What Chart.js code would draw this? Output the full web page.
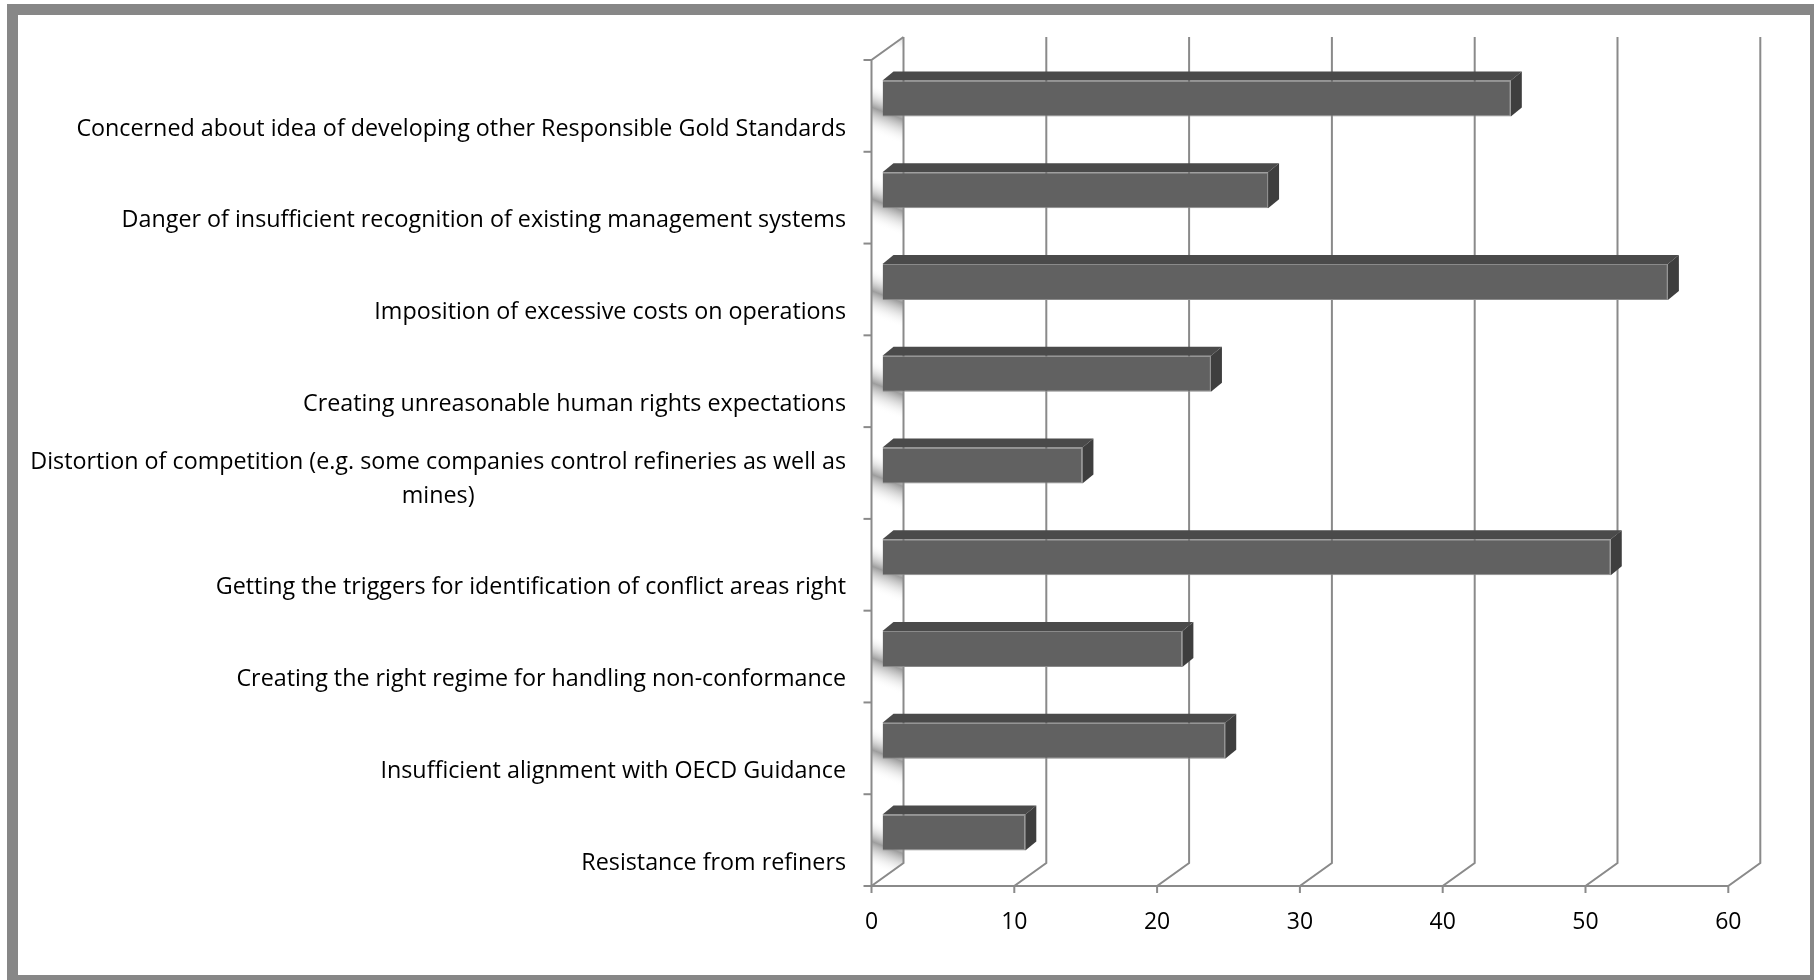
<!DOCTYPE html>
<html>
<head>
<meta charset="utf-8">
<script src="https://cdn.jsdelivr.net/npm/chart.js@4.4.0/dist/chart.umd.min.js"></script>
<style>
  html, body { margin: 0; padding: 0; background: #fff; overflow: hidden; }
  #frame { position: absolute; left: 7px; top: 4px; width: 1792px; height: 960px; border: 11px solid #878787; }
  #c { position: absolute; left: 0; top: 0; }
</style>
</head>
<body>
<div id="frame"></div>
<canvas id="c" width="1814" height="980"></canvas>
<script>
// Chart data
const categories = [
    'Concerned about idea of developing other Responsible Gold Standards',
    'Danger of insufficient recognition of existing management systems',
    'Imposition of excessive costs on operations',
    'Creating unreasonable human rights expectations',
    ['Distortion of competition (e.g. some companies control refineries as well as', 'mines)'],
    'Getting the triggers for identification of conflict areas right',
    'Creating the right regime for handling non-conformance',
    'Insufficient alignment with OECD Guidance',
    'Resistance from refiners'
];
const responses = [44, 27, 55, 23, 14, 51, 21, 24, 10];
const xTicks = [0, 10, 20, 30, 40, 50, 60];

// 3D look: offsets relative to the plane the bars sit in
const FRONT = { x: -11, y: 7.5 };
const BACK = { x: 21, y: -15.5 };
const DEPTH = { x: 11, y: -9 };
const LABEL_RIGHT = 846;
const FONT = '"Open Sans", "Noto Sans", sans-serif';

const box3d = {
    id: 'box3d',
    beforeDatasetsDraw(chart) {
        const { ctx, chartArea: a, scales: { x } } = chart;
        const x0 = x.getPixelForValue(xTicks[0]);
        const fl = x0 + FRONT.x, ft = a.top + FRONT.y, fb = a.bottom + FRONT.y;
        const bl = x0 + BACK.x, bt = a.top + BACK.y, bb = a.bottom + BACK.y;
        const band = (fb - ft) / categories.length;
        ctx.save();

        // side wall, white with a diagonal shade in each band
        ctx.beginPath();
        ctx.moveTo(fl, ft); ctx.lineTo(bl, bt); ctx.lineTo(bl, bb); ctx.lineTo(fl, fb);
        ctx.closePath();
        ctx.fillStyle = '#fff';
        ctx.fill();
        ctx.clip();
        for (let i = -1; i <= categories.length; i++) {
            const y1 = ft + i * band;
            const g = ctx.createLinearGradient(fl, y1 + band, bl, y1 + 0.1 * band);
            g.addColorStop(0, 'rgba(255,255,255,0)');
            g.addColorStop(0.2, 'rgba(255,255,255,0)');
            g.addColorStop(0.47, 'rgba(140,140,140,0.85)');
            g.addColorStop(0.72, 'rgba(255,255,255,0)');
            g.addColorStop(1, 'rgba(255,255,255,0)');
            ctx.fillStyle = g;
            ctx.fillRect(fl, y1 - band * 0.3, bl - fl, band * 1.6);
        }
        ctx.restore();
        ctx.save();

        ctx.strokeStyle = '#8a8a8a';
        ctx.lineWidth = 2;

        // grid lines on the back wall, running down to the front axis
        xTicks.forEach(v => {
            const px = x.getPixelForValue(v);
            ctx.beginPath();
            ctx.moveTo(px + BACK.x, bt);
            ctx.lineTo(px + BACK.x, bb);
            ctx.lineTo(px + FRONT.x, fb);
            ctx.lineTo(px + FRONT.x, fb + 7);
            ctx.stroke();
        });

        // front axis line
        ctx.beginPath();
        ctx.moveTo(fl, fb);
        ctx.lineTo(x.getPixelForValue(xTicks[xTicks.length - 1]) + FRONT.x, fb);
        ctx.stroke();

        // front edge of the wall with category ticks
        ctx.beginPath();
        ctx.moveTo(bl, bt); ctx.lineTo(fl, ft); ctx.lineTo(fl, fb);
        ctx.stroke();
        for (let i = 0; i <= categories.length; i++) {
            ctx.beginPath();
            ctx.moveTo(fl - 8, ft + i * band);
            ctx.lineTo(fl, ft + i * band);
            ctx.stroke();
        }
        ctx.restore();
    },
    afterDatasetsDraw(chart) {
        const ctx = chart.ctx;
        ctx.save();
        chart.getDatasetMeta(0).data.forEach(bar => {
            const { x: xe, y: yc, base, height } = bar.getProps(['x', 'y', 'base', 'height'], true);
            const top = yc - height / 2, bot = yc + height / 2;
            ctx.fillStyle = '#4a4a4a';
            ctx.beginPath();
            ctx.moveTo(base, top); ctx.lineTo(base + DEPTH.x, top + DEPTH.y);
            ctx.lineTo(xe + DEPTH.x, top + DEPTH.y); ctx.lineTo(xe, top);
            ctx.closePath();
            ctx.fill();
            ctx.fillStyle = '#3e3e3e';
            ctx.beginPath();
            ctx.moveTo(xe, top); ctx.lineTo(xe + DEPTH.x, top + DEPTH.y);
            ctx.lineTo(xe + DEPTH.x, bot + DEPTH.y); ctx.lineTo(xe, bot);
            ctx.closePath();
            ctx.fill();
        });
        ctx.restore();
    },
    afterDraw(chart) {
        const { ctx, scales: { y } } = chart;
        ctx.save();
        ctx.font = '23.3px ' + FONT;
        ctx.fillStyle = '#000';
        ctx.textAlign = 'center';
        ctx.textBaseline = 'middle';
        categories.forEach((lab, i) => {
            const lines = Array.isArray(lab) ? lab : [lab];
            const w = Math.max(...lines.map(l => ctx.measureText(l).width));
            const cx = LABEL_RIGHT - w / 2;
            const yLast = y.getPixelForValue(i) + FRONT.y + 23;
            lines.forEach((l, k) => ctx.fillText(l, cx, yLast - (lines.length - 1 - k) * 33.6));
        });
        ctx.restore();
    }
};

new Chart(document.getElementById('c').getContext('2d'), {
    type: 'bar',
    data: {
        labels: categories,
        datasets: [{
            data: responses,
            backgroundColor: '#616161',
            borderColor: '#8a8a8a',
            borderWidth: 1,
            barPercentage: 0.392,
            categoryPercentage: 1
        }]
    },
    options: {
        indexAxis: 'y',
        responsive: false,
        animation: false,
        layout: { padding: { left: 882.5, top: 52.5, right: 74.7, bottom: 0 } },
        plugins: { legend: { display: false }, tooltip: { enabled: false } },
        scales: {
            y: { display: false },
            x: {
                min: xTicks[0],
                max: xTicks[xTicks.length - 1],
                grid: { display: false, drawTicks: false },
                border: { display: false },
                ticks: {
                    stepSize: xTicks[1] - xTicks[0],
                    labelOffset: FRONT.x,
                    padding: 30,
                    color: '#000',
                    font: { family: FONT, size: 23 }
                },
                afterFit(scale) { scale.height = 101.5; }
            }
        }
    },
    plugins: [box3d]
});
</script>
</body>
</html>
